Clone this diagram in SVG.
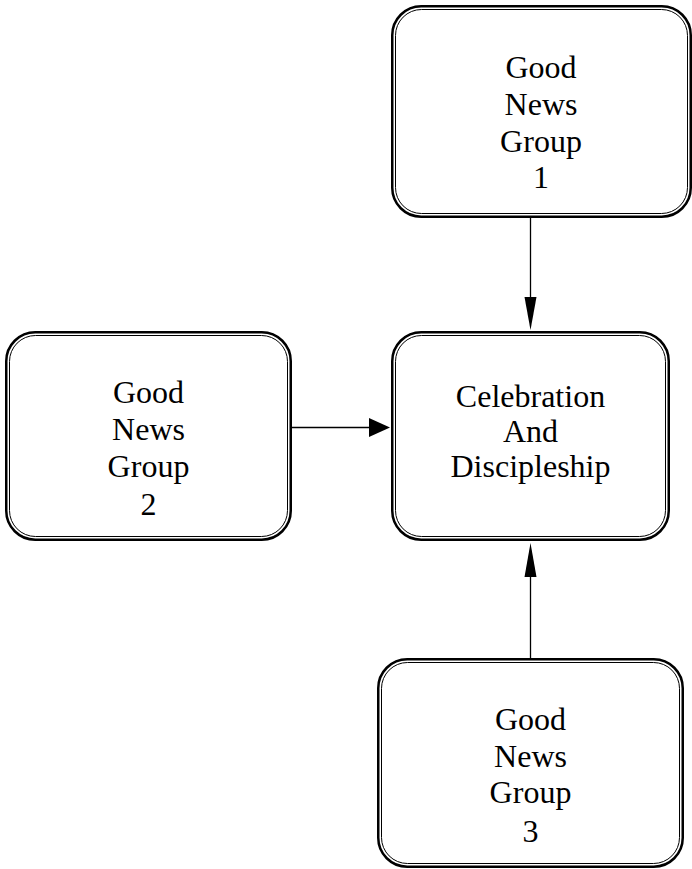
<svg xmlns="http://www.w3.org/2000/svg" width="692" height="869" viewBox="0 0 692 869">
  <style>
    .outer { fill: #ffffff; stroke: #000000; stroke-width: 2.5; }
    .inner { fill: none; stroke: #000000; stroke-width: 1; }
    .label { font-family: "Liberation Serif", "Times New Roman", serif; font-size: 32px; fill: #000000; text-anchor: middle; }
    .edge { stroke: #000000; stroke-width: 1.3; fill: none; }
    .head { fill: #000000; stroke: none; }
  </style>
  <rect width="692" height="869" fill="#ffffff"/>

  <g id="node-group1">
    <rect class="outer" x="392.25" y="6.25" width="298.5" height="210.5" rx="29" ry="29"/>
    <rect class="inner" x="395.5" y="9.5" width="292" height="204" rx="26" ry="26"/>
    <text class="label" x="541" y="78">Good</text>
    <text class="label" x="541" y="115">News</text>
    <text class="label" x="541" y="152">Group</text>
    <text class="label" x="541" y="188">1</text>
  </g>

  <g id="node-group2">
    <rect class="outer" x="6.25" y="332.25" width="284.5" height="207.5" rx="29" ry="29"/>
    <rect class="inner" x="9.5" y="335.5" width="278" height="201" rx="26" ry="26"/>
    <text class="label" x="148.5" y="403">Good</text>
    <text class="label" x="148.5" y="440">News</text>
    <text class="label" x="148.5" y="477">Group</text>
    <text class="label" x="148.5" y="515">2</text>
  </g>

  <g id="node-celebration">
    <rect class="outer" x="392.25" y="332.25" width="276.5" height="207.5" rx="29" ry="29"/>
    <rect class="inner" x="395.5" y="335.5" width="270" height="201" rx="26" ry="26"/>
    <text class="label" x="530.5" y="407">Celebration</text>
    <text class="label" x="530.5" y="442">And</text>
    <text class="label" x="530.5" y="477">Discipleship</text>
  </g>

  <g id="node-group3">
    <rect class="outer" x="378.25" y="659.25" width="304.5" height="207.5" rx="29" ry="29"/>
    <rect class="inner" x="381.5" y="662.5" width="298" height="201" rx="26" ry="26"/>
    <text class="label" x="530.5" y="730">Good</text>
    <text class="label" x="530.5" y="767">News</text>
    <text class="label" x="530.5" y="803">Group</text>
    <text class="label" x="530.5" y="842">3</text>
  </g>

  <g id="connectors">
    <!-- Group 1 down to Celebration -->
    <line class="edge" x1="530.5" y1="218" x2="530.5" y2="300"/>
    <polygon class="head" points="524.5,297 536.5,297 530.5,330"/>
    <!-- Group 2 across to Celebration -->
    <line class="edge" x1="292" y1="427.5" x2="372" y2="427.5"/>
    <polygon class="head" points="369,418 369,437 390,427.5"/>
    <!-- Group 3 up to Celebration -->
    <line class="edge" x1="530.5" y1="658" x2="530.5" y2="574"/>
    <polygon class="head" points="524.5,577 536.5,577 530.5,543"/>
  </g>
</svg>
